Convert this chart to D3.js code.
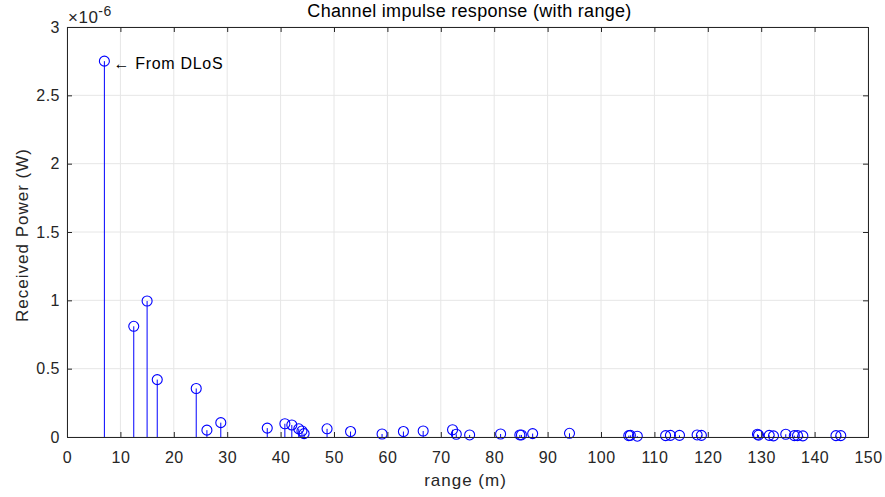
<!DOCTYPE html>
<html><head><meta charset="utf-8">
<script src="https://cdn.jsdelivr.net/npm/d3@7"></script>
<style>
body{margin:0;background:#fff;}
svg{display:block;font-family:"Liberation Sans",Arial,Helvetica,sans-serif;}
</style></head>
<body><svg id="c" width="885" height="497"></svg>
<script>
const ranges = [7.0,12.5,15.0,16.9,24.2,26.2,28.8,37.5,40.8,42.1,43.4,44.0,44.4,48.7,53.1,59.0,63.0,66.7,72.2,72.9,75.4,81.2,84.8,85.1,87.2,94.1,105.2,105.5,106.8,112.1,113.0,114.7,118.0,118.8,129.3,129.5,131.5,132.3,134.6,136.2,136.8,137.8,144.0,144.9];
const powers = [2.75,0.81,0.995,0.42,0.355,0.05,0.105,0.065,0.097,0.088,0.06,0.044,0.025,0.06,0.04,0.022,0.04,0.044,0.053,0.02,0.015,0.022,0.015,0.015,0.025,0.027,0.01,0.012,0.006,0.01,0.012,0.012,0.015,0.012,0.02,0.014,0.012,0.008,0.02,0.01,0.01,0.008,0.01,0.01].map(v=>v*1e-6);
const xTicks = [0,10,20,30,40,50,60,70,80,90,100,110,120,130,140,150];
const yTicks = [0,0.5e-6,1e-6,1.5e-6,2e-6,2.5e-6,3e-6];
const titleText = "Channel impulse response (with range)";
const xLabel = "range (m)";
const yLabel = "Received Power (W)";
const annotation = "\u2190 From DLoS";

const W=885,H=497, m={l:67,r:17,t:27,b:60};
const svg=d3.select("#c");
const x=d3.scaleLinear().domain([0,150]).range([m.l,W-m.r]);
const y=d3.scaleLinear().domain([0,3e-6]).range([H-m.b,m.t]);
const axisCol="#262626", gridCol="#e6e6e6";

// grid
svg.append("g").selectAll("line").data(xTicks).join("line")
 .attr("x1",d=>x(d)).attr("x2",d=>x(d)).attr("y1",m.t).attr("y2",H-m.b)
 .attr("stroke",gridCol).attr("stroke-width",1);
svg.append("g").selectAll("line").data(yTicks).join("line")
 .attr("x1",m.l).attr("x2",W-m.r).attr("y1",d=>y(d)).attr("y2",d=>y(d))
 .attr("stroke",gridCol).attr("stroke-width",1);

// stems
const data=ranges.map((r,i)=>({r,p:powers[i]}));
svg.append("g").selectAll("line").data(data).join("line")
 .attr("x1",d=>x(d.r)).attr("x2",d=>x(d.r)).attr("y1",y(0)).attr("y2",d=>y(d.p))
 .attr("stroke","#0000ff").attr("stroke-width",1);
svg.append("g").selectAll("circle").data(data).join("circle")
 .attr("cx",d=>x(d.r)).attr("cy",d=>y(d.p)).attr("r",5)
 .attr("fill","none").attr("stroke","#0000ff").attr("stroke-width",1.1);

// axes
const fmtY = d=>{const v=+(d/1e-6).toFixed(2);return String(v);};
const gx=svg.append("g").attr("transform",`translate(0,${H-m.b})`)
 .call(d3.axisBottom(x).tickValues(xTicks).tickSize(-5).tickPadding(15));
const gxt=svg.append("g").attr("transform",`translate(0,${m.t})`)
 .call(d3.axisTop(x).tickValues(xTicks).tickSize(-5).tickFormat(""));
const gy=svg.append("g").attr("transform",`translate(${m.l},0)`)
 .call(d3.axisLeft(y).tickValues(yTicks).tickSize(-5).tickPadding(7).tickFormat(fmtY));
const gyr=svg.append("g").attr("transform",`translate(${W-m.r},0)`)
 .call(d3.axisRight(y).tickValues(yTicks).tickSize(-5).tickFormat(""));
[gx,gxt,gy,gyr].forEach(g=>{
  g.selectAll("path").attr("stroke",axisCol).attr("stroke-width",1);
  g.selectAll("line").attr("stroke",axisCol);
  g.selectAll("text").attr("fill",axisCol).style("font-size","16px")
   .style("letter-spacing","0.5px")
   .style("font-family","'Liberation Sans',Arial,sans-serif");
});

// exponent
const ex=svg.append("text").attr("x",m.l+1).attr("y",23).attr("fill",axisCol)
 .style("font-size","17px").style("letter-spacing","0.5px");
ex.append("tspan").text("\u00d710");
ex.append("tspan").attr("dy",-7).style("font-size","14px").text("-6");

// title
svg.append("text").attr("x",(m.l+W-m.r)/2+2).attr("y",17).attr("text-anchor","middle")
 .attr("fill","#000").style("font-size","18px").style("letter-spacing","0.3px").text(titleText);
// labels
svg.append("text").attr("x",(m.l+W-m.r)/2-2).attr("y",486).attr("text-anchor","middle")
 .attr("fill",axisCol).style("font-size","17px").style("letter-spacing","1px").text(xLabel);
svg.append("text").attr("transform",`translate(28,${(m.t+H-m.b)/2+3}) rotate(-90)`)
 .attr("text-anchor","middle").attr("fill",axisCol).style("font-size","17px")
 .style("letter-spacing","1px").text(yLabel);
// annotation
svg.append("text").attr("x",x(ranges[0])+9).attr("y",y(powers[0])+8)
 .attr("fill","#000").style("font-size","16px").style("letter-spacing","0.7px").text(annotation);
</script></body></html>
